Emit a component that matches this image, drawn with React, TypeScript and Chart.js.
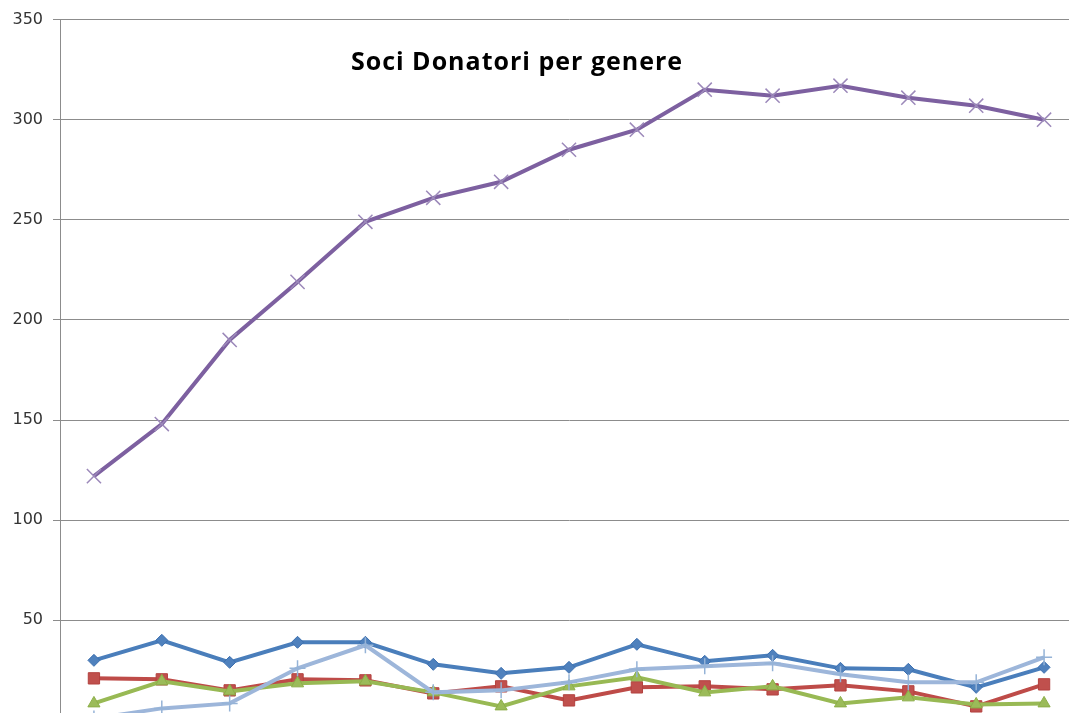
import React, { useEffect, useRef } from "react";
import { Chart, registerables } from "chart.js";

Chart.register(...registerables);

const categories = ["1", "2", "3", "4", "5", "6", "7", "8", "9", "10", "11", "12", "13", "14", "15"];
const serieBlu = [30, 40, 29, 39, 39, 28, 23.5, 26.5, 38, 29.5, 32.5, 26, 25.5, 16.5, 26.5];
const serieRossa = [21, 20.5, 15, 20.5, 20, 13.5, 17, 10, 16.5, 17, 15.5, 17.5, 14.5, 7, 18];
const serieVerde = [8.5, 19.5, 14.5, 18.5, 19.5, 14, 7, 17, 21.5, 14, 17, 8.5, 11.5, 8, 8.5];
const serieViola = [122, 148, 190, 219, 249, 261, 269, 285, 295, 315, 312, 317, 311, 307, 300];
const serieAzzurra = [1, 6, 8.5, 26, 37.5, 14, 15, 19, 25.5, 27, 28.5, 23, 19, 19, 31.5];
const seriesNames = ["Serie 1", "Serie 2", "Serie 3", "Serie 4", "Serie 5"];
const titleText = "Soci Donatori per genere";
const yTicks = [0, 50, 100, 150, 200, 250, 300, 350];

const titlePlugin = {
  id: "innerTitle",
  afterDatasetsDraw(chart: any) {
    const { ctx, chartArea } = chart;
    ctx.save();
    ctx.font = "bold 25px 'Open Sans'";
    (ctx as any).letterSpacing = "1px";
    ctx.fillStyle = "#000000";
    ctx.textAlign = "center";
    ctx.textBaseline = "alphabetic";
    ctx.fillText(titleText, chartArea.left + 457, chartArea.top + 50);
    ctx.restore();
  },
};

export default function App() {
  const ref = useRef<HTMLCanvasElement>(null);
  useEffect(() => {
    if (!ref.current) return;
    const chart = new Chart(ref.current, {
      type: "line",
      data: {
        labels: categories,
        datasets: [
          {
            label: seriesNames[0],
            data: serieBlu,
            borderColor: "#4A7EBB",
            backgroundColor: "#4F81BD",
            borderWidth: 4,
            pointStyle: "rectRot",
            pointRadius: 6,
            pointBorderWidth: 1,
            pointBorderColor: "#3C6FAF",
            pointBackgroundColor: "#4F81BD",
            order: 5,
          },
          {
            label: seriesNames[1],
            data: serieRossa,
            borderColor: "#BE4B48",
            backgroundColor: "#C0504D",
            borderWidth: 4,
            pointStyle: "rect",
            pointRadius: 8,
            pointBorderWidth: 1,
            pointBorderColor: "#B3423F",
            pointBackgroundColor: "#C0504D",
            order: 4,
          },
          {
            label: seriesNames[2],
            data: serieVerde,
            borderColor: "#98B954",
            backgroundColor: "#9BBB59",
            borderWidth: 4,
            pointStyle: "triangle",
            pointRadius: 7,
            pointBorderWidth: 1,
            pointBorderColor: "#8CAE48",
            pointBackgroundColor: "#9BBB59",
            order: 3,
          },
          {
            label: seriesNames[3],
            data: serieViola,
            borderColor: "#7D60A0",
            backgroundColor: "#9C89BA",
            borderWidth: 4,
            pointStyle: "crossRot",
            pointRadius: 10,
            pointBorderWidth: 1.5,
            pointBorderColor: "#9C89BA",
            order: 2,
          },
          {
            label: seriesNames[4],
            data: serieAzzurra,
            borderColor: "#9DB6DA",
            backgroundColor: "#95B3D7",
            borderWidth: 4,
            pointStyle: "cross",
            pointRadius: 8,
            pointBorderWidth: 1.5,
            pointBorderColor: "#95B3D7",
            order: 1,
          },
        ],
      },
      options: {
        animation: false,
        responsive: false,
        devicePixelRatio: 1,
        layout: { autoPadding: false, padding: { top: 18, bottom: 10, left: 0, right: 0 } },
        plugins: { legend: { display: false }, tooltip: { enabled: false }, title: { display: false } },
        elements: { line: { tension: 0 } },
        scales: {
          x: { type: "category", display: false, offset: true },
          y: {
            min: yTicks[0],
            max: yTicks[yTicks.length - 1],
            afterBuildTicks: (scale: any) => {
              scale.ticks = yTicks.map((v) => ({ value: v }));
            },
            afterFit: (scale: any) => {
              scale.width = 60;
            },
            ticks: {
              font: { family: "DejaVu Sans", size: 16 },
              color: "#333333",
              padding: 10,
              callback: (v: any) => (v === 0 ? "" : String(v)),
            },
            grid: { color: "#8C8C8C", lineWidth: 1, tickLength: 7, drawTicks: true },
            border: { color: "#8C8C8C", width: 1 },
          },
        },
      },
      plugins: [titlePlugin],
    });
    return () => chart.destroy();
  }, []);
  return (
    <div style={{ position: "fixed", left: 0, top: 0, width: 1069, height: 713, overflow: "hidden", background: "#fff" }}>
      <canvas ref={ref} width={1078} height={740} style={{ display: "block" }} />
    </div>
  );
}
